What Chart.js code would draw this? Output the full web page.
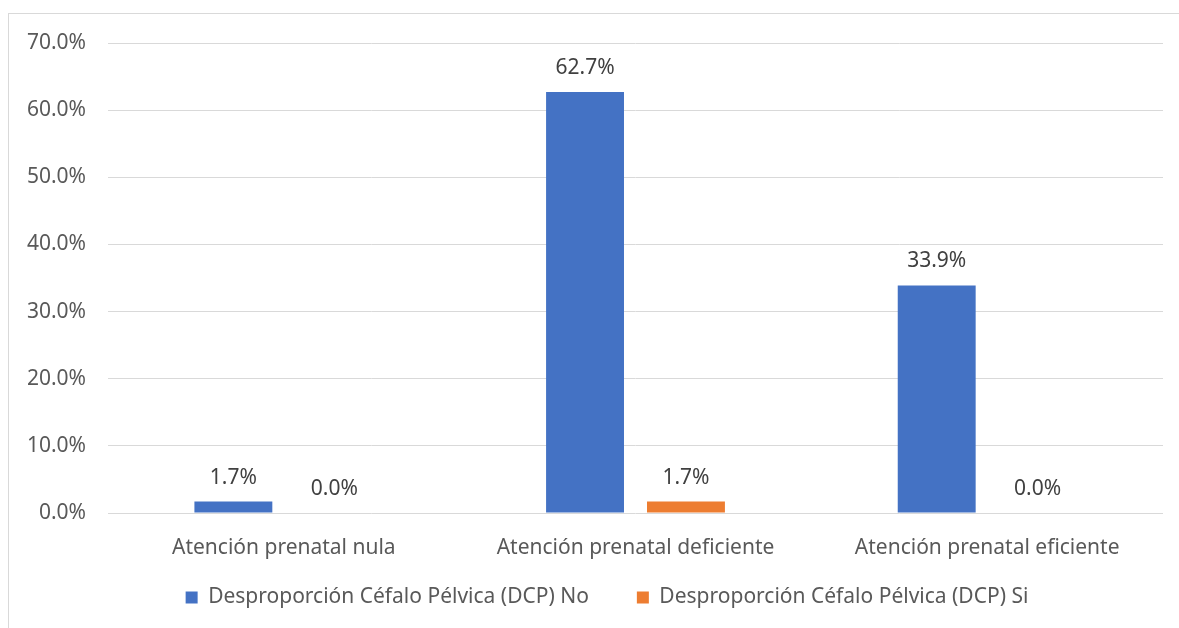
<!DOCTYPE html>
<html>
<head>
<meta charset="utf-8">
<script src="https://cdn.jsdelivr.net/npm/chart.js@4/dist/chart.umd.min.js"></script>
<style>
  html, body { margin: 0; padding: 0; background: #ffffff; }
  #wrap { position: relative; width: 1179px; height: 628px; overflow: hidden; }
  #frame { position: absolute; left: 8px; top: 13px; width: 1200px; height: 700px;
           border-top: 1px solid #d9d9d9; border-left: 1px solid #d9d9d9; }
  canvas { position: absolute; left: 0; top: 0; }
</style>
</head>
<body>
<div id="wrap">
  <div id="frame"></div>
  <canvas id="c" width="1179" height="628"></canvas>
</div>
<script>
const categories = ["Atención prenatal nula", "Atención prenatal deficiente", "Atención prenatal eficiente"];
const seriesNames = ["Desproporción Céfalo Pélvica (DCP) No", "Desproporción Céfalo Pélvica (DCP) Si"];
const dcpNo = [1.7, 62.7, 33.9];
const dcpSi = [0.0, 1.7, 0.0];
const yTicks = [0, 10, 20, 30, 40, 50, 60, 70];

const FONT = "'Noto Sans', 'Open Sans', sans-serif";
const FS = 21;
const LEGEND_PAD = 48;

const labelPlugin = {
  id: 'barLabels',
  afterDatasetsDraw(chart) {
    const ctx = chart.ctx;
    ctx.save();
    ctx.font = FS + "px " + FONT;
    ctx.fillStyle = "#404040";
    ctx.textAlign = "center";
    ctx.textBaseline = "middle";
    chart.data.datasets.forEach((ds, i) => {
      const meta = chart.getDatasetMeta(i);
      meta.data.forEach((bar, j) => {
        ctx.fillText(ds.data[j].toFixed(1) + "%", bar.x, bar.y - 24);
      });
    });
    ctx.restore();
  }
};

const legendPlace = {
  id: 'legendPlace',
  beforeLayout(chart) {
    const lg = chart.legend;
    if (lg && !lg._fixed) {
      lg._fixed = true;
      const origFit = lg.fit.bind(lg);
      lg.fit = function () { origFit(); this.height = 44; };
    }
  },
  afterLayout(chart) {
    const lg = chart.legend;
    if (lg) {
      lg.left += 51;
      lg.top -= 34;
    }
  }
};

new Chart(document.getElementById('c'), {
  type: 'bar',
  data: {
    labels: categories,
    datasets: [
      { label: seriesNames[0], data: dcpNo, backgroundColor: '#4472C4' },
      { label: seriesNames[1], data: dcpSi, backgroundColor: '#ED7D31' }
    ]
  },
  options: {
    responsive: false,
    animation: false,
    devicePixelRatio: 1,
    categoryPercentage: 0.574,
    barPercentage: 0.772,
    layout: { padding: { top: 43, right: 16, left: 0, bottom: 11 } },
    plugins: {
      tooltip: { enabled: false },
      legend: {
        position: 'bottom',
        labels: {
          font: { family: FONT, size: FS },
          color: '#595959',
          boxWidth: 12,
          boxHeight: 12,
          padding: LEGEND_PAD
        }
      }
    },
    scales: {
      x: {
        grid: { display: false },
        border: { display: false },
        ticks: { font: { family: FONT, size: FS }, color: '#595959', padding: 14, maxRotation: 0 },
        afterFit: s => { s.height = 60; }
      },
      y: {
        min: 0, max: 70,
        afterBuildTicks: s => { s.ticks = yTicks.map(v => ({ value: v })); },
        grid: { color: '#d9d9d9', lineWidth: 1, drawTicks: false },
        border: { display: false },
        ticks: {
          font: { family: FONT, size: FS }, color: '#595959', padding: 22,
          callback: v => v.toFixed(1) + '%'
        },
        afterFit: s => { s.width = 108; }
      }
    }
  },
  plugins: [labelPlugin, legendPlace]
});
</script>
</body>
</html>
